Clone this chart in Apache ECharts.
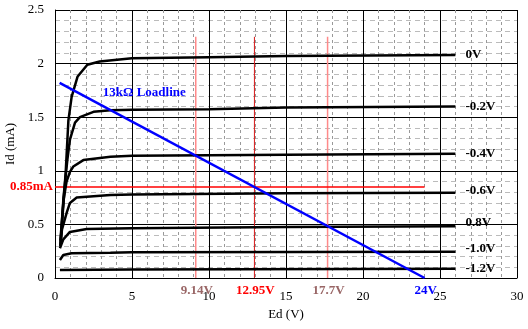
<!DOCTYPE html>
<html>
<head>
<meta charset="utf-8">
<script src="https://cdn.jsdelivr.net/npm/echarts@6/dist/echarts.min.js"></script>
<style>
  html, body { margin: 0; padding: 0; background: #fff; }
  #main { width: 528px; height: 329px; }
</style>
</head>
<body>
<div id="main"></div>
<script>
// characteristic curves, [Ed (V), Id (mA)]
const curve0V = [[0.35, 0.3], [0.5, 0.6], [0.7, 1.0], [0.87, 1.47], [1.08, 1.69], [1.47, 1.88], [2.1, 1.99], [2.9, 2.02], [5, 2.05], [10, 2.06], [15, 2.07], [26, 2.08]];
const curveM02 = [[0.35, 0.3], [0.55, 0.75], [0.8, 1.1], [0.97, 1.29], [1.3, 1.45], [1.62, 1.5], [2.5, 1.55], [3.6, 1.565], [5, 1.57], [10, 1.575], [15, 1.59], [26, 1.6]];
const curveM04 = [[0.35, 0.35], [0.55, 0.72], [0.75, 0.9], [0.97, 0.99], [1.19, 1.04], [1.84, 1.1], [3.6, 1.13], [5, 1.14], [15, 1.15], [26, 1.16]];
const curveM06 = [[0.35, 0.3], [0.45, 0.45], [0.76, 0.61], [0.97, 0.7], [1.41, 0.75], [3.6, 0.774], [5, 0.78], [15, 0.79], [26, 0.795]];
const curveM08 = [[0.32, 0.277], [0.54, 0.36], [0.97, 0.43], [2.06, 0.457], [5, 0.465], [15, 0.475], [26, 0.482]];
const curveM10 = [[0.32, 0.168], [0.54, 0.215], [1.08, 0.23], [3.6, 0.236], [5, 0.24], [26, 0.245]];
const curveM12 = [[0.32, 0.075], [5, 0.08], [26, 0.086]];
const curves = [curve0V, curveM02, curveM04, curveM06, curveM08, curveM10, curveM12];
const gateLabels = ["0V", "-0.2V", "-0.4V", "-0.6V", "0.8V", "-1.0V", "-1.2V"];
const labelLift = [0, 0, 0, -2, -4, -3, 0];

// 13k load line and operating point
const loadLine = [[0.3, 1.82], [24, 0]];
const idLine = [[0, 0.85], [24, 0.85]];
const markEd = [9.14, 12.95, 17.7];
const markTop = 2.25;
const markColors = ["#ff8a8a", "#d81818", "#ff8a8a"];
const bottomLabels = ["9.14V", "12.95V", "17.7V", "24V"];
const bottomLabelEd = [9.14, 12.95, 17.7, 24];
const bottomLabelColors = ["#996666", "#ff0000", "#996666", "#0000ff"];

const FONT = "Liberation Serif";
const myChart = echarts.init(document.getElementById("main"));

const series = [];
markEd.forEach((ed, i) => {
  series.push({
    type: "line",
    data: [[ed, 0], [ed, markTop]],
    showSymbol: false,
    lineStyle: { color: markColors[i], width: i === 1 ? 1 : 1.5 },
    z: 3,
  });
});
series.push({
  type: "line",
  data: idLine,
  showSymbol: false,
  lineStyle: { color: "#ff0000", width: 1.5 },
  z: 3,
});
curves.forEach((c, i) => {
  series.push({
    type: "line",
    data: c,
    showSymbol: false,
    clip: false,
    lineStyle: { color: "#000", width: 2.5 },
    endLabel: {
      show: true,
      formatter: gateLabels[i],
      distance: 10,
      offset: [0, labelLift[i]],
      fontFamily: FONT,
      fontWeight: "bold",
      fontSize: 13,
      color: "#000",
    },
    z: 4,
  });
});
series.push({
  type: "line",
  data: loadLine,
  showSymbol: false,
  lineStyle: { color: "#0000ff", width: 2.5 },
  z: 5,
});

myChart.setOption({
  animation: false,
  grid: { left: 55, right: 11, top: 10, bottom: 51, outerBoundsMode: "none", containLabel: false },
  xAxis: {
    type: "value",
    min: 0,
    max: 30,
    interval: 5,
    name: "Ed (V)",
    nameLocation: "middle",
    nameGap: 20,
    nameTextStyle: { fontFamily: FONT, fontSize: 13, color: "#000" },
    axisLine: { lineStyle: { color: "#000" } },
    axisTick: { show: false },
    axisLabel: { fontFamily: FONT, fontSize: 13, color: "#000", margin: 12 },
    splitLine: { show: true, lineStyle: { color: "#000", width: 1 } },
    minorTick: { show: false, splitNumber: 5 },
    minorSplitLine: { show: true, lineStyle: { color: "#999", type: [3, 3], width: 1 } },
  },
  yAxis: {
    type: "value",
    min: 0,
    max: 2.5,
    interval: 0.5,
    name: "Id (mA)",
    nameLocation: "middle",
    nameGap: 28,
    nameTextStyle: { fontFamily: FONT, fontSize: 13, color: "#000" },
    axisLine: { show: true, lineStyle: { color: "#000" } },
    axisTick: { show: false },
    axisLabel: { fontFamily: FONT, fontSize: 13, color: "#000", margin: 11 },
    splitLine: { show: true, lineStyle: { color: "#000", width: 1 } },
    minorTick: { show: false, splitNumber: 5 },
    minorSplitLine: { show: true, lineStyle: { color: "#bbb", type: [5, 4], width: 1 } },
  },
  series: series,
});

// text annotations placed through the chart's own scales
const px = p => myChart.convertToPixel({ gridIndex: 0 }, p);
const texts = [];
const lp = px([3.1, 1.73]);
texts.push({
  type: "text", x: lp[0], y: lp[1],
  style: { text: "13kΩ Loadline", fill: "#0000ff", font: "bold 13px " + FONT, textVerticalAlign: "middle" },
  z: 10,
});
const ip = px([0, 0.85]);
texts.push({
  type: "text", x: ip[0] - 2, y: ip[1],
  style: { text: "0.85mA", fill: "#ff0000", font: "bold 13px " + FONT, textAlign: "right", textVerticalAlign: "middle" },
  z: 10,
});
bottomLabels.forEach((t, i) => {
  const p = px([bottomLabelEd[i], 0]);
  texts.push({
    type: "text", x: p[0] + 1, y: p[1] + 13,
    style: { text: t, fill: bottomLabelColors[i], font: "bold 13px " + FONT, textAlign: "center", textVerticalAlign: "middle" },
    z: 10,
  });
});
myChart.setOption({ graphic: texts });

window.addEventListener("resize", () => {
  myChart.resize();
});
</script>
</body>
</html>
